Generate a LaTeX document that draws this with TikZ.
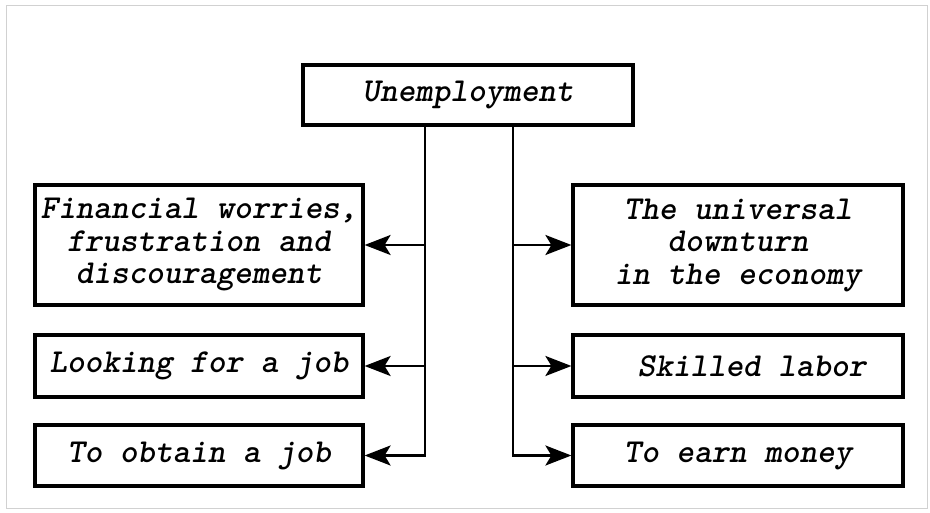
\documentclass[tikz,border=0pt]{standalone}
\usepackage{fontspec}
\usetikzlibrary{arrows.meta}

\begin{document}
\begin{tikzpicture}[x=1pt,y=-1pt,
  box/.style={draw,line width=3.2pt,inner sep=0pt,align=center,
    font=\fontsize{33.5pt}{32.5pt}\selectfont\ttfamily\bfseries\itshape},
  conn/.style={line width=2.4pt},
  tip/.style={-{Stealth[length=26pt,width=20pt,inset=6pt]}}]
\useasboundingbox (0,0) rectangle (930,513);
\draw[black!18,line width=1pt] (6,6) rectangle (927,508);

\node[box,minimum width=330pt,minimum height=60pt] (unemp) at (468,95) {Unemployment};

% left column
\node[box,minimum width=328pt,minimum height=120pt] (worries) at (199,245)
  {Financial worries,\\frustration and\\discouragement};
\node[box,minimum width=328pt,minimum height=62pt] (looking) at (199,366) {Looking for a job};
\node[box,minimum width=328pt,minimum height=61pt] (obtain) at (199,455.5) {To obtain a job};

% right column
\node[box,minimum width=330pt,minimum height=120pt] (downturn) at (738,245)
  {The universal\\downturn\\in the economy};
\node[box,minimum width=330pt,minimum height=62pt] (skilled) at (738,366) {\hspace*{28pt}Skilled labor};
\node[box,minimum width=330pt,minimum height=61pt] (money) at (738,455.5) {To earn money};

\coordinate (lt) at ([xshift=-43pt]unemp.south);
\coordinate (rt) at ([xshift=45pt]unemp.south);

\draw[conn,tip] (lt) |- (obtain.east);
\draw[conn,tip] (lt |- worries.east) -- (worries.east);
\draw[conn,tip] (lt |- looking.east) -- (looking.east);

\draw[conn,tip] (rt) |- (money.west);
\draw[conn,tip] (rt |- downturn.west) -- (downturn.west);
\draw[conn,tip] (rt |- skilled.west) -- (skilled.west);
\end{tikzpicture}
\end{document}
